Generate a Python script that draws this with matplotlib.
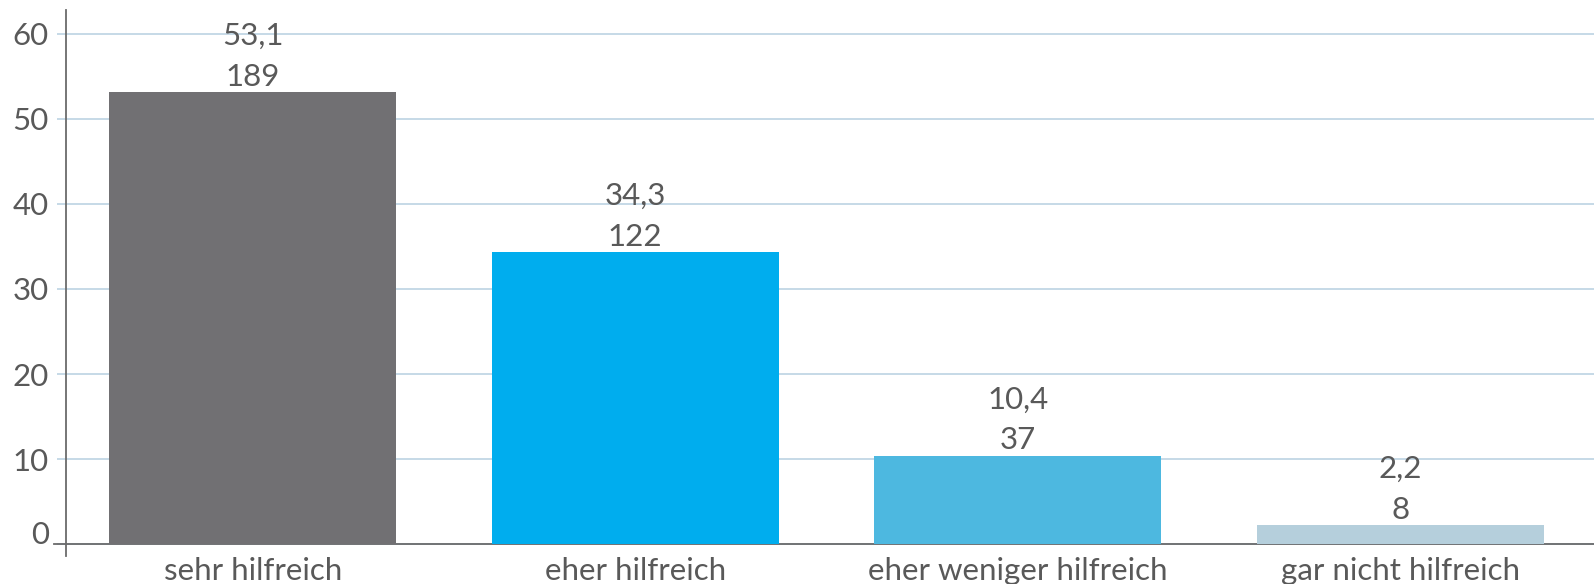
import matplotlib.pyplot as plt
import numpy as np

plt.rcParams["font.family"] = ["Lato", "DejaVu Sans"]

categories = ["sehr hilfreich", "eher hilfreich", "eher weniger hilfreich", "gar nicht hilfreich"]
percent = [53.1, 34.3, 10.4, 2.2]
counts = [189, 122, 37, 8]
percent_labels = ["53,1", "34,3", "10,4", "2,2"]
bar_colors = ["#717073", "#00adee", "#4db8e0", "#b5cfdc"]
y_ticks = [0, 10, 20, 30, 40, 50, 60]

text_color = "#595959"
grid_color = "#bcd3e3"
axis_color = "#6b6b6b"
fs = 22.5

fig = plt.figure(figsize=(15.94, 5.84), dpi=100)
ax = fig.add_axes([66 / 1594, 1 - 556 / 584, 1 - 66 / 1594, (556 - 10) / 584])

x = np.arange(len(categories))
bars = ax.bar(x, percent, width=0.75, color=bar_colors, zorder=3)

for xi, p, c, pl in zip(x, percent, counts, percent_labels):
    ax.annotate(str(c), (xi, p), xytext=(0, 4.5), textcoords="offset points",
                ha="center", va="baseline", fontsize=fs, color=text_color, zorder=4)
    ax.annotate(pl, (xi, p), xytext=(0, 34), textcoords="offset points",
                ha="center", va="baseline", fontsize=fs, color=text_color, zorder=4)

ax.set_xlim(-0.488, 3.507)
ax.set_ylim(-1.4, 62.8)
ax.set_yticks(y_ticks)
ax.set_yticklabels([str(t) for t in y_ticks])
ax.yaxis.grid(True, color=grid_color, linewidth=1.2, zorder=0)
ax.tick_params(axis="y", length=6.5, width=1.2, color=grid_color, pad=6,
               labelsize=fs, labelcolor=text_color)
ax.get_yticklabels()[0].set_va("baseline")
ax.set_xticks(x)
ax.set_xticklabels(categories)
ax.tick_params(axis="x", length=0, pad=0.5, labelsize=fs, labelcolor=text_color)

for s in ["top", "right", "bottom"]:
    ax.spines[s].set_visible(False)
ax.spines["left"].set_color(axis_color)
ax.spines["left"].set_linewidth(1.3)

# baseline at zero
ax.axhline(0, xmin=-0.008, xmax=1, color=axis_color, linewidth=1.3, clip_on=False, zorder=2)

fig.savefig("out.png", dpi=100)
